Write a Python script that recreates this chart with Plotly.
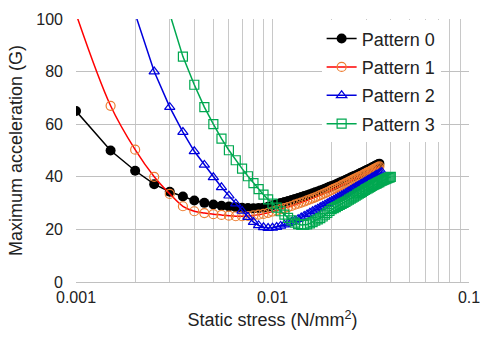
import plotly.graph_objects as go

# Static stress grid (N/mm^2), 0.0005 steps from 0.001 to 0.04
stress = [0.001, 0.0015, 0.002, 0.0025, 0.003, 0.0035, 0.004, 0.0045, 0.005, 0.0055,
          0.006, 0.0065, 0.007, 0.0075, 0.008, 0.0085, 0.009, 0.0095, 0.01, 0.0105,
          0.011, 0.0115, 0.012, 0.0125, 0.013, 0.0135, 0.014, 0.0145, 0.015, 0.0155,
          0.016, 0.0165, 0.017, 0.0175, 0.018, 0.0185, 0.019, 0.0195, 0.02, 0.0205,
          0.021, 0.0215, 0.022, 0.0225, 0.023, 0.0235, 0.024, 0.0245, 0.025, 0.0255,
          0.026, 0.0265, 0.027, 0.0275, 0.028, 0.0285, 0.029, 0.0295, 0.03, 0.0305,
          0.031, 0.0315, 0.032, 0.0325, 0.033, 0.0335, 0.034, 0.0345, 0.035, 0.0355,
          0.036, 0.0365, 0.037, 0.0375, 0.038, 0.0385, 0.039, 0.0395, 0.04]

# Pattern 0: 0.001 .. 0.035
pattern0 = [65, 50, 42.3, 37.2, 34.3, 32.5, 31.0, 30.1, 29.5, 29.0,
            28.7, 28.4, 28.2, 28.1, 28.0, 28.1, 28.2, 28.6, 29.2,
            29.6, 30.0, 30.4, 30.8, 31.2, 31.6, 31.9, 32.3, 32.7, 33.0,
            33.4, 33.7, 34.1, 34.4, 34.8, 35.1, 35.5, 35.8, 36.2, 36.5,
            36.8, 37.1, 37.5, 37.8, 38.1, 38.4, 38.8, 39.1, 39.4, 39.7,
            40.0, 40.3, 40.5, 40.8, 41.1, 41.4, 41.6, 41.9, 42.2, 42.5,
            42.7, 43.0, 43.2, 43.5, 43.7, 44.0, 44.3, 44.5, 44.8, 45.0]

# Pattern 1: 0.001 .. 0.035
pattern1 = [102, 67, 50.3, 40.0, 33.5, 28.8, 26.9, 26.2, 25.8, 25.5,
            25.2, 25.0, 25.0, 25.1, 25.3, 25.6, 25.9, 26.3, 26.8,
            27.2, 27.7, 28.1, 28.5, 28.9, 29.4, 29.8, 30.2, 30.6, 31.0,
            31.4, 31.8, 32.2, 32.6, 33.0, 33.4, 33.8, 34.2, 34.6, 35.0,
            35.4, 35.7, 36.1, 36.4, 36.8, 37.1, 37.5, 37.8, 38.2, 38.5,
            38.8, 39.1, 39.4, 39.7, 40.0, 40.3, 40.5, 40.8, 41.1, 41.4,
            41.7, 41.9, 42.2, 42.5, 42.7, 43.0, 43.2, 43.5, 43.7, 44.0]

# Pattern 2: 0.002 .. 0.036
pattern2 = [102, 80, 66.5, 57, 49.7, 44.5, 39.8, 36.0, 32.8, 29.8,
            27.0, 24.7, 22.8, 21.5, 20.8, 20.5, 20.6,
            20.9, 21.3, 21.8, 22.3, 22.8, 23.3, 23.9, 24.5, 25.1, 25.7,
            26.3, 26.9, 27.4, 27.9, 28.4, 28.9, 29.4, 29.9, 30.3, 30.8,
            31.2, 31.7, 32.1, 32.5, 32.9, 33.3, 33.7, 34.1, 34.5, 34.9,
            35.3, 35.7, 36.0, 36.4, 36.7, 37.1, 37.4, 37.7, 38.0, 38.4,
            38.7, 39.0, 39.3, 39.6, 39.9, 40.2, 40.5, 40.8, 41.0, 41.3,
            41.5, 41.8]

# Pattern 3: 0.003 .. 0.04
pattern3 = [102, 85.7, 75, 66.5, 60.0, 54.5, 50.1, 46.3, 43.1, 40.2,
            37.6, 35.3, 33.2, 31.4, 29.8, 28.3, 26.9, 25.6, 24.4, 23.4,
            22.6, 22.0, 21.7, 21.7, 21.9,
            22.3, 22.8, 23.3, 23.8, 24.3, 24.9, 25.6, 26.3, 27.0, 27.7,
            28.1, 28.5, 28.9, 29.3, 29.7, 30.1, 30.5, 30.9, 31.3, 31.7,
            32.1, 32.5, 32.8, 33.2, 33.6, 33.9, 34.3, 34.6, 35.0, 35.3,
            35.6, 35.9, 36.2, 36.5, 36.8, 37.0, 37.3, 37.5, 37.8, 38.0,
            38.3, 38.5, 38.7, 38.9, 39.1, 39.3, 39.5, 39.7, 39.8, 40.0]

x0 = stress[0:len(pattern0)]
x1 = stress[0:len(pattern1)]
x2 = stress[2:2 + len(pattern2)]
x3 = stress[4:4 + len(pattern3)]

x_gridvals = [0.001, 0.002, 0.003, 0.004, 0.005, 0.006, 0.007, 0.008, 0.009,
              0.01, 0.02, 0.03, 0.04, 0.05, 0.06, 0.07, 0.08, 0.09, 0.1]
x_ticktext = ["0.001", "", "", "", "", "", "", "", "",
              "0.01", "", "", "", "", "", "", "", "", "0.1"]
y_tickvals = [0, 20, 40, 60, 80, 100]

FONT = "Liberation Sans, Arial, sans-serif"

fig = go.Figure()
fig.add_trace(go.Scatter(
    x=x0, y=pattern0, name="Pattern 0", mode="lines+markers", legendgroup="p0",
    line=dict(color="black", width=1.5),
    marker=dict(symbol="circle", size=10, color="black")))
fig.add_trace(go.Scatter(
    x=x1, y=pattern1, name="Pattern 1", mode="lines+markers", legendgroup="p1",
    line=dict(color="#FF0000", width=1.5, shape="spline"),
    marker=dict(symbol="circle-open", size=9, color="#ED7D31",
                line=dict(width=1.2, color="#ED7D31"))))
fig.add_trace(go.Scatter(
    x=x2, y=pattern2, name="Pattern 2", mode="lines+markers", legendgroup="p2",
    line=dict(color="#0000DD", width=1.5),
    marker=dict(symbol="triangle-up-open", size=9, color="#0000DD",
                line=dict(width=1.2, color="#0000DD"))))
fig.add_trace(go.Scatter(
    x=x3, y=pattern3, name="Pattern 3", mode="lines+markers", legendgroup="p3",
    line=dict(color="#00A850", width=1.5),
    marker=dict(symbol="square-open", size=9, color="#00A850",
                line=dict(width=1.2, color="#00A850"))))

fig.update_layout(
    width=480, height=343,
    margin=dict(l=76, r=11, t=12, b=61),
    paper_bgcolor="white", plot_bgcolor="white",
    font=dict(family=FONT, color="#222222", size=16),
    showlegend=True,
    legend=dict(
        x=0.625, y=0.995, xanchor="left", yanchor="top",
        bgcolor="white", borderwidth=0,
        font=dict(family=FONT, size=18, color="#222222"),
        itemwidth=30, tracegroupgap=2,
    ),
    xaxis=dict(
        type="log", range=[-3, -1],
        tickvals=x_gridvals, ticktext=x_ticktext,
        tickangle=0, automargin=False,
        showgrid=True, gridcolor="#C8C8C8", gridwidth=1,
        showline=False, zeroline=False, ticks="",
        ticklabelstandoff=4, ticklabeloverflow="allow",
        tickfont=dict(size=16),
        title=dict(text="Static stress (N/mm<sup>2</sup>)", font=dict(size=18), standoff=8),
    ),
    yaxis=dict(
        range=[0, 100], tickvals=y_tickvals,
        showgrid=True, gridcolor="#C0C0C0", gridwidth=1,
        zeroline=True, zerolinecolor="#C0C0C0", zerolinewidth=1,
        showline=False, ticks="",
        ticklabelstandoff=12,
        tickfont=dict(size=16),
        title=dict(text="Maximum acceleration (G)", font=dict(size=18), standoff=8),
    ),
)

fig.write_html("out.html")
